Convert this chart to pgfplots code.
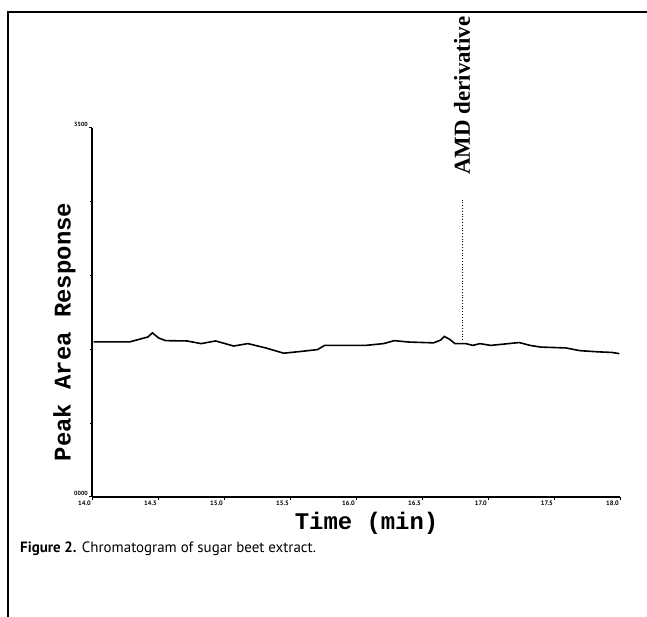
\documentclass[border=0pt]{standalone}
\usepackage{fontspec}
\setmainfont{Liberation Serif}
\newfontfamily\monofont{Liberation Mono}
\newfontfamily\capfont{PT Sans}
\usepackage{pgfplots}
\pgfplotsset{compat=1.18}

\begin{document}
\begin{tikzpicture}
\useasboundingbox (0,0) rectangle (647bp,617bp);
% frame of the scanned figure
\draw[line width=2bp] (8bp,0) -- (8bp,605bp) -- (647bp,605bp);

\begin{axis}[
  at = {(92bp,120bp)},
  anchor = south west,
  scale only axis,
  width = 528bp,
  height = 369bp,
  xmin = 14, xmax = 18,
  ymin = 0, ymax = 3500,
  axis x line* = bottom,
  axis y line* = left,
  x axis line style = {line width=1.8bp},
  y axis line style = {line width=2.6bp},
  xtick = {14,14.5,...,18},
  xticklabels = {14.0,14.5,15.0,15.5,16.0,16.5,17.0,17.5,18.0},
  xticklabel style = {anchor=north east, inner sep=1bp,
    font=\fontsize{6.5}{7}\selectfont\bfseries\capfont},
  ytick = {0,3500},
  yticklabels = {0000,3500},
  yticklabel style = {inner sep=1bp, anchor=south east,
    font=\fontsize{6}{7}\selectfont\bfseries\capfont},
  minor y tick num = 4,
  tick style = {black, line width=1bp},
  major tick length = 3bp,
  minor tick length = 2bp,
  tick align = outside,
  clip = false,
  xlabel = {Time (min)},
  xlabel style = {at={(rel axis cs:0.52,0)}, anchor=north, yshift=-12bp,
    font=\fontsize{24}{26}\selectfont\bfseries\monofont},
  ylabel = {Peak Area Response},
  ylabel style = {at={(rel axis cs:0,0.447)}, anchor=south, rotate=0, yshift=13bp,
    font=\fontsize{24}{26}\selectfont\bfseries\monofont},
]

\addplot[black, line width=1.6bp] coordinates {
  (14.012,1472) (14.288,1472) (14.424,1518) (14.458,1557) (14.505,1508)
  (14.558,1483) (14.720,1480) (14.826,1455) (14.937,1480) (15.073,1432)
  (15.181,1455) (15.316,1414) (15.452,1364) (15.586,1381) (15.708,1398)
  (15.762,1438) (15.911,1438) (16.073,1438) (16.209,1455) (16.290,1483)
  (16.398,1470) (16.588,1462) (16.642,1489) (16.669,1523) (16.709,1496)
  (16.750,1455) (16.831,1455) (16.886,1438) (16.939,1455) (17.020,1438)
  (17.156,1455) (17.237,1465) (17.318,1438) (17.399,1422) (17.589,1414)
  (17.697,1388) (17.833,1377) (17.939,1371) (17.995,1360)
};

% marker line for the AMD derivative peak
\addplot[black, dotted, line width=0.8bp] coordinates {
  (16.803,1489) (16.803,2817)
};

\node[rotate=90, anchor=west, inner sep=0pt,
  font=\fontsize{23}{25}\selectfont\bfseries]
  at (axis cs:16.803,3054) {AMD derivative};

\end{axis}

\node[anchor=base west, inner sep=0pt, font=\fontsize{15}{17}\selectfont\capfont]
  at (20bp,64bp) {\textbf{Figure 2.} Chromatogram of sugar beet extract.};
\end{tikzpicture}
\end{document}
